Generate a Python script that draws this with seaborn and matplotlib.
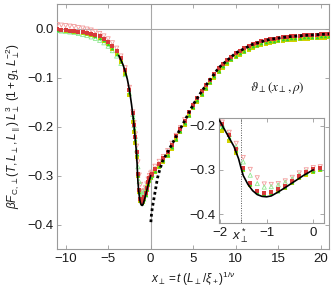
import matplotlib
matplotlib.use("Agg")
import matplotlib.pyplot as plt
import numpy as np
import pandas as pd
import seaborn as sns

# ---------------- data ----------------
x_left = [-11, -10.5, -10, -9.5, -9, -8.5, -8, -7.5, -7, -6.5, -6, -5.5, -5, -4.5, -4, -3.5, -3, -2.5]
x_mid = [-2.1, -1.95, -1.8, -1.65, -1.5, -1.35, -1.2, -1.05, -0.9, -0.75, -0.6, -0.45, -0.3, -0.15, 0.0, 0.15]
x_right = [0.5, 1, 1.5, 2, 2.5, 3, 3.5, 4, 4.5, 5, 5.5, 6, 6.5, 7, 7.5, 8, 8.5, 9, 9.5, 10, 10.5,
           11, 11.5, 12, 12.5, 13, 13.5, 14, 14.5, 15, 15.5, 16, 16.5, 17, 17.5, 18, 18.5, 19, 19.5, 20, 20.5, 21]
x_right_short = [0.5, 1, 1.5, 2, 2.5, 3, 3.5, 4]

pink_left = [0.008, 0.007, 0.006, 0.005, 0.004, 0.002, 0.001, -0.001, -0.003, -0.006, -0.010, -0.015,
             -0.021, -0.029, -0.040, -0.056, -0.080, -0.120]
pink_mid = [-0.170, -0.192, -0.215, -0.240, -0.272, -0.299, -0.318, -0.332, -0.333, -0.331, -0.325, -0.317,
            -0.307, -0.300, -0.295, -0.293]
pink_right = [-0.281, -0.271, -0.261, -0.249, -0.234, -0.218, -0.202, -0.186]

lgreen_left = [-0.004, -0.005, -0.006, -0.007, -0.008, -0.010, -0.012, -0.014, -0.017, -0.020, -0.024, -0.029,
               -0.036, -0.045, -0.056, -0.071, -0.094, -0.133]
lgreen_mid = [-0.175, -0.198, -0.220, -0.248, -0.282, -0.312, -0.331, -0.339, -0.338, -0.334, -0.328, -0.320,
              -0.311, -0.304, -0.300, -0.298]

red_left = [-0.001, -0.002, -0.003, -0.004, -0.005, -0.006, -0.007, -0.009, -0.011, -0.013, -0.016, -0.021,
            -0.027, -0.035, -0.045, -0.061, -0.085, -0.126]
red_mid = [-0.172, -0.196, -0.222, -0.252, -0.296, -0.330, -0.348, -0.353, -0.350, -0.344, -0.336, -0.325,
           -0.314, -0.305, -0.299, -0.296]
red_right = [-0.286, -0.276, -0.265, -0.252, -0.237, -0.220, -0.204, -0.188, -0.171, -0.155, -0.141, -0.128,
             -0.116, -0.104, -0.092, -0.081, -0.072, -0.064, -0.057, -0.050, -0.045, -0.040, -0.036, -0.032,
             -0.029, -0.026, -0.024, -0.022, -0.021, -0.019, -0.018, -0.017, -0.016, -0.016, -0.015, -0.014,
             -0.014, -0.013, -0.013, -0.012, -0.012, -0.011]

green_left = [-0.002, -0.003, -0.003, -0.004, -0.005, -0.006, -0.008, -0.010, -0.012, -0.015, -0.019, -0.024,
              -0.031, -0.040, -0.051, -0.067, -0.090, -0.130]
green_mid = [-0.180, -0.203, -0.226, -0.255, -0.298, -0.333, -0.350, -0.355, -0.352, -0.347, -0.339, -0.328,
             -0.317, -0.308, -0.302, -0.299]
green_right = [-0.290, -0.280, -0.269, -0.257, -0.242, -0.225, -0.209, -0.193, -0.176, -0.160, -0.146, -0.133,
               -0.121, -0.109, -0.097, -0.086, -0.077, -0.069, -0.062, -0.055, -0.050, -0.045, -0.040, -0.036,
               -0.033, -0.030, -0.028, -0.026, -0.025, -0.023, -0.022, -0.021, -0.020, -0.020, -0.019, -0.018,
               -0.018, -0.017, -0.017, -0.016, -0.016, -0.015]

yellow_left = [-0.003, -0.003, -0.004, -0.005, -0.006, -0.007, -0.009, -0.011, -0.013, -0.016, -0.020, -0.025,
               -0.032, -0.041, -0.052, -0.068, -0.092, -0.135]
yellow_mid = [-0.190, -0.212, -0.234, -0.262, -0.300, -0.334, -0.351, -0.356, -0.353, -0.348, -0.340, -0.330,
              -0.319, -0.311, -0.304, -0.301]
yellow_right = [-0.293, -0.283, -0.272, -0.260, -0.245, -0.228, -0.212, -0.196, -0.179, -0.163, -0.149, -0.136,
                -0.124, -0.112, -0.100, -0.089, -0.080, -0.072, -0.065, -0.058, -0.053, -0.048, -0.043, -0.039,
                -0.036, -0.033, -0.031, -0.029, -0.028, -0.026, -0.025, -0.024, -0.023, -0.023, -0.022, -0.021,
                -0.021, -0.020, -0.020, -0.019, -0.019, -0.018]

theory_x = [-3.75, -3.5, -3.25, -3.0, -2.75, -2.5, -2.25, -2.0, -1.9, -1.8, -1.7, -1.6, -1.55, -1.5, -1.4, -1.3,
            -1.2, -1.1, -1.0, -0.9, -0.75, -0.6, -0.4, -0.2, 0.0]
theory_y = [-0.055, -0.064, -0.074, -0.087, -0.103, -0.125, -0.155, -0.190, -0.209, -0.228, -0.247, -0.275,
            -0.295, -0.313, -0.333, -0.347, -0.356, -0.360, -0.361, -0.359, -0.350, -0.340, -0.326, -0.312, -0.300]

bulk_x = [0.02, 0.1, 0.2, 0.4, 0.6, 0.8, 1.0, 1.4, 2, 3, 4, 5, 6, 7, 8, 10, 12, 14, 16, 18, 20, 21]
bulk_y = [-0.395, -0.378, -0.365, -0.345, -0.325, -0.305, -0.292, -0.270, -0.252, -0.220, -0.188, -0.155,
          -0.128, -0.104, -0.080, -0.050, -0.032, -0.022, -0.017, -0.014, -0.012, -0.011]

x_star = -1.555

main_xticks = [-10, -5, 0, 5, 10, 15, 20]
main_yticks = [0.0, -0.1, -0.2, -0.3, -0.4]
inset_xticks = [-2, x_star, -1, 0]
inset_xticklabels = ["\u22122", r"$x_\perp^*$", "\u22121", "0"]
inset_yticks = [-0.2, -0.3, -0.4]

# ---------------- build tidy frame ----------------
def frame(name, xs, ys):
    return pd.DataFrame({"x": xs, "y": ys, "series": name})

df = pd.concat([
    frame("pink", x_left + x_mid + x_right_short, pink_left + pink_mid + pink_right),
    frame("lgreen", x_left + x_mid, lgreen_left + lgreen_mid),
    frame("yellow", x_left + x_mid + x_right, yellow_left + yellow_mid + yellow_right),
    frame("green", x_left + x_mid + x_right, green_left + green_mid + green_right),
    frame("red", x_left + x_mid + x_right, red_left + red_mid + red_right),
], ignore_index=True)

styles = {
    "pink": dict(marker="v", facecolor="none", edgecolor="#f29a9a", s=9, linewidth=0.6),
    "lgreen": dict(marker="^", facecolor="none", edgecolor="#8fe88f", s=9, linewidth=0.6),
    "yellow": dict(marker="s", color="#d2d200", s=5, linewidth=0),
    "green": dict(marker="^", color="#2fd22f", s=7, linewidth=0),
    "red": dict(marker="s", color="#d83a3a", s=5, linewidth=0),
}

# ---------------- style ----------------
sns.set_theme(style="ticks")
plt.rcParams["font.family"] = ["Liberation Sans", "DejaVu Sans"]
plt.rcParams["mathtext.fontset"] = "custom"
plt.rcParams["mathtext.rm"] = "Liberation Sans"
plt.rcParams["mathtext.it"] = "Liberation Sans:italic"
plt.rcParams["mathtext.bf"] = "Liberation Sans:bold"
plt.rcParams["axes.unicode_minus"] = True

fig = plt.figure(figsize=(3.34, 2.91), dpi=100)
ax = fig.add_axes([0.171, 0.144, 0.815, 0.842])
axin = fig.add_axes([0.6557, 0.2326, 0.3144, 0.3629])

spine_c = "#9a9a9a"


def draw_points(a):
    for name in ["pink", "lgreen", "yellow", "green", "red"]:
        sub = df[df["series"] == name]
        sns.scatterplot(data=sub, x="x", y="y", ax=a, legend=False, zorder=3, **styles[name])


# main panel
ax.axhline(0, color="#a8a8a8", lw=0.8, zorder=0)
ax.axvline(0, color="#a8a8a8", lw=0.8, zorder=0)
draw_points(ax)
sns.lineplot(x=theory_x, y=theory_y, ax=ax, color="black", lw=1.2, sort=False, estimator=None, zorder=5)
sns.lineplot(x=bulk_x, y=bulk_y, ax=ax, color="black", lw=2.0, linestyle=(0, (1, 1)), sort=False,
             estimator=None, zorder=6)
ax.set_xlim(-11, 21)
ax.set_ylim(-0.45, 0.05)
ax.set_xticks(main_xticks)
ax.set_yticks(main_yticks)
ax.set_yticklabels([f"{v:.1f}".replace("-", "\u2212") for v in main_yticks])
ax.set_xticklabels([str(v).replace("-", "\u2212") for v in main_xticks])
ax.tick_params(direction="in", top=True, right=True, length=3, width=0.6, color=spine_c,
               labelsize=9.5, pad=2.5, labelcolor="#1a1a1a")
ax.set_xlabel(r"$x_\perp = t\;(L_\perp/\xi_+)^{1/\nu}$", fontsize=8.5, labelpad=4, color="#1a1a1a")
ax.set_ylabel(r"$\beta F_{\rm C,\perp}(T,L_\perp,L_\parallel)\;L_\perp^3\;(1+g_1\;L_\perp^{-2})$",
              fontsize=8.5, labelpad=3, color="#1a1a1a")
for sp in ax.spines.values():
    sp.set_color(spine_c)
    sp.set_linewidth(0.8)

fig.text(0.832, 0.698, r"$\vartheta_\perp(x_\perp,\rho)$", fontsize=9.5, math_fontfamily="stix",
         ha="center", va="center", color="#1a1a1a")

# inset
axin.set_facecolor("white")
axin.axvline(x_star, color="#555555", lw=0.7, linestyle=(0, (1, 1.5)), zorder=1)
draw_points(axin)
sns.lineplot(x=theory_x, y=theory_y, ax=axin, color="black", lw=1.2, sort=False, estimator=None, zorder=5)
axin.set_xlim(-2.02, 0.23)
axin.set_ylim(-0.421, -0.182)
axin.set_xticks(inset_xticks)
axin.set_xticklabels(inset_xticklabels)
axin.set_yticks(inset_yticks)
axin.set_yticklabels([f"{v:.1f}".replace("-", "\u2212") for v in inset_yticks])
axin.tick_params(direction="in", top=True, right=True, length=3, width=0.6, color=spine_c,
                 labelsize=9.5, pad=2.5, labelcolor="#1a1a1a")
axin.set_xlabel("")
axin.set_ylabel("")
for sp in axin.spines.values():
    sp.set_color(spine_c)
    sp.set_linewidth(0.8)

fig.savefig("out.png", dpi=100)
